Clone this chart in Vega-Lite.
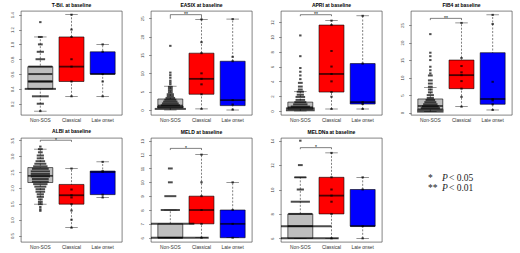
{
"$schema":"https://vega.github.io/schema/vega-lite/v6.json",
"padding":{"left":9,"top":2,"right":0,"bottom":0},
"background":"white",
"datasets":{
"boxes":[
{"p":"TBil","g":"Non-SOS","lo":0.1,"q1":0.4,"med":0.5,"q3":0.7,"hi":1.1},
{"p":"TBil","g":"Classical","lo":0.3,"q1":0.5,"med":0.7,"q3":1.1,"hi":1.4},
{"p":"TBil","g":"Late onset","lo":0.3,"q1":0.6,"med":0.6,"q3":0.9,"hi":1.0},
{"p":"EASIX","g":"Non-SOS","lo":0,"q1":0.6,"med":1.2,"q3":3.0,"hi":6.5},
{"p":"EASIX","g":"Classical","lo":0.3,"q1":4.3,"med":8.5,"q3":15.5,"hi":24.7},
{"p":"EASIX","g":"Late onset","lo":0,"q1":1.2,"med":2.7,"q3":13.3,"hi":24.8},
{"p":"APRI","g":"Non-SOS","lo":0,"q1":0.25,"med":0.5,"q3":1.2,"hi":2.6},
{"p":"APRI","g":"Classical","lo":0.27,"q1":2.56,"med":5.0,"q3":11.6,"hi":12.2},
{"p":"APRI","g":"Late onset","lo":0.27,"q1":0.94,"med":1.2,"q3":6.4,"hi":12.85},
{"p":"FIB4","g":"Non-SOS","lo":0.3,"q1":1.05,"med":1.9,"q3":3.9,"hi":7.2},
{"p":"FIB4","g":"Classical","lo":1.7,"q1":6.85,"med":10.7,"q3":15.0,"hi":25.6},
{"p":"FIB4","g":"Late onset","lo":0.76,"q1":2.4,"med":3.9,"q3":17.1,"hi":27.9},
{"p":"ALBI","g":"Non-SOS","lo":1.49,"q1":2.17,"med":2.38,"q3":2.64,"hi":3.22},
{"p":"ALBI","g":"Classical","lo":0.75,"q1":1.49,"med":1.77,"q3":2.11,"hi":2.61},
{"p":"ALBI","g":"Late onset","lo":1.7,"q1":1.79,"med":2.5,"q3":2.53,"hi":2.82},
{"p":"MELD","g":"Non-SOS","lo":6,"q1":6,"med":6,"q3":7,"hi":8},
{"p":"MELD","g":"Classical","lo":6,"q1":7,"med":8,"q3":9,"hi":12},
{"p":"MELD","g":"Late onset","lo":6,"q1":6,"med":7,"q3":8,"hi":10},
{"p":"MELDNa","g":"Non-SOS","lo":6,"q1":6,"med":7,"q3":8,"hi":11},
{"p":"MELDNa","g":"Classical","lo":6,"q1":8,"med":9.5,"q3":11,"hi":13},
{"p":"MELDNa","g":"Late onset","lo":6,"q1":7,"med":7,"q3":10,"hi":11}
],
"pts":[
{"p":"TBil","g":"Non-SOS","v":1.3,"n":1},{"p":"TBil","g":"Non-SOS","v":1.1,"n":2},{"p":"TBil","g":"Non-SOS","v":1.0,"n":2},{"p":"TBil","g":"Non-SOS","v":0.9,"n":3},{"p":"TBil","g":"Non-SOS","v":0.8,"n":4},{"p":"TBil","g":"Non-SOS","v":0.7,"n":10},{"p":"TBil","g":"Non-SOS","v":0.6,"n":10},{"p":"TBil","g":"Non-SOS","v":0.5,"n":10},{"p":"TBil","g":"Non-SOS","v":0.4,"n":13},{"p":"TBil","g":"Non-SOS","v":0.3,"n":7},{"p":"TBil","g":"Non-SOS","v":0.2,"n":3},{"p":"TBil","g":"Non-SOS","v":0.1,"n":1},
{"p":"TBil","g":"Classical","v":1.4,"n":1},{"p":"TBil","g":"Classical","v":1.2,"n":1},{"p":"TBil","g":"Classical","v":1.1,"n":1},{"p":"TBil","g":"Classical","v":0.8,"n":1},{"p":"TBil","g":"Classical","v":0.7,"n":1},{"p":"TBil","g":"Classical","v":0.5,"n":1},{"p":"TBil","g":"Classical","v":0.3,"n":1},
{"p":"TBil","g":"Late onset","v":1.0,"n":1},{"p":"TBil","g":"Late onset","v":0.9,"n":1},{"p":"TBil","g":"Late onset","v":0.6,"n":1},{"p":"TBil","g":"Late onset","v":0.5,"n":1},{"p":"TBil","g":"Late onset","v":0.3,"n":1},
{"p":"EASIX","g":"Non-SOS","v":17.5,"n":1},{"p":"EASIX","g":"Non-SOS","v":10.2,"n":1},{"p":"EASIX","g":"Non-SOS","v":9.5,"n":1},{"p":"EASIX","g":"Non-SOS","v":8.8,"n":1},{"p":"EASIX","g":"Non-SOS","v":8,"n":1},{"p":"EASIX","g":"Non-SOS","v":7.5,"n":1},{"p":"EASIX","g":"Non-SOS","v":7,"n":1},{"p":"EASIX","g":"Non-SOS","v":6.3,"n":2},{"p":"EASIX","g":"Non-SOS","v":5.8,"n":2},{"p":"EASIX","g":"Non-SOS","v":5.3,"n":2},{"p":"EASIX","g":"Non-SOS","v":4.8,"n":2},{"p":"EASIX","g":"Non-SOS","v":4.3,"n":3},{"p":"EASIX","g":"Non-SOS","v":3.8,"n":3},{"p":"EASIX","g":"Non-SOS","v":3.3,"n":4},{"p":"EASIX","g":"Non-SOS","v":2.8,"n":5},{"p":"EASIX","g":"Non-SOS","v":2.3,"n":6},{"p":"EASIX","g":"Non-SOS","v":1.8,"n":7},{"p":"EASIX","g":"Non-SOS","v":1.3,"n":8},{"p":"EASIX","g":"Non-SOS","v":0.8,"n":11},{"p":"EASIX","g":"Non-SOS","v":0.3,"n":13},
{"p":"EASIX","g":"Classical","v":24.7,"n":1},{"p":"EASIX","g":"Classical","v":18.5,"n":1},{"p":"EASIX","g":"Classical","v":15.5,"n":1},{"p":"EASIX","g":"Classical","v":10,"n":1},{"p":"EASIX","g":"Classical","v":8.5,"n":1},{"p":"EASIX","g":"Classical","v":7,"n":1},{"p":"EASIX","g":"Classical","v":4.3,"n":1},{"p":"EASIX","g":"Classical","v":0.3,"n":1},
{"p":"EASIX","g":"Late onset","v":24.8,"n":1},{"p":"EASIX","g":"Late onset","v":14.5,"n":1},{"p":"EASIX","g":"Late onset","v":13.3,"n":1},{"p":"EASIX","g":"Late onset","v":2.7,"n":1},{"p":"EASIX","g":"Late onset","v":1.5,"n":1},{"p":"EASIX","g":"Late onset","v":0.1,"n":1},
{"p":"APRI","g":"Non-SOS","v":10.2,"n":1},{"p":"APRI","g":"Non-SOS","v":7.4,"n":1},{"p":"APRI","g":"Non-SOS","v":5.8,"n":1},{"p":"APRI","g":"Non-SOS","v":5.3,"n":1},{"p":"APRI","g":"Non-SOS","v":4.8,"n":1},{"p":"APRI","g":"Non-SOS","v":4.3,"n":1},{"p":"APRI","g":"Non-SOS","v":3.8,"n":2},{"p":"APRI","g":"Non-SOS","v":3.3,"n":2},{"p":"APRI","g":"Non-SOS","v":2.9,"n":2},{"p":"APRI","g":"Non-SOS","v":2.6,"n":3},{"p":"APRI","g":"Non-SOS","v":2.2,"n":3},{"p":"APRI","g":"Non-SOS","v":1.9,"n":4},{"p":"APRI","g":"Non-SOS","v":1.5,"n":4},{"p":"APRI","g":"Non-SOS","v":1.2,"n":5},{"p":"APRI","g":"Non-SOS","v":0.9,"n":6},{"p":"APRI","g":"Non-SOS","v":0.6,"n":8},{"p":"APRI","g":"Non-SOS","v":0.35,"n":12},{"p":"APRI","g":"Non-SOS","v":0.1,"n":12},
{"p":"APRI","g":"Classical","v":12.2,"n":1},{"p":"APRI","g":"Classical","v":11.6,"n":1},{"p":"APRI","g":"Classical","v":8.1,"n":1},{"p":"APRI","g":"Classical","v":6.0,"n":1},{"p":"APRI","g":"Classical","v":5.0,"n":1},{"p":"APRI","g":"Classical","v":4.0,"n":1},{"p":"APRI","g":"Classical","v":2.56,"n":1},{"p":"APRI","g":"Classical","v":1.93,"n":1},{"p":"APRI","g":"Classical","v":0.27,"n":1},
{"p":"APRI","g":"Late onset","v":12.85,"n":1},{"p":"APRI","g":"Late onset","v":6.4,"n":1},{"p":"APRI","g":"Late onset","v":1.2,"n":1},{"p":"APRI","g":"Late onset","v":0.94,"n":1},{"p":"APRI","g":"Late onset","v":0.27,"n":1},
{"p":"FIB4","g":"Non-SOS","v":22.4,"n":1},{"p":"FIB4","g":"Non-SOS","v":17.1,"n":1},{"p":"FIB4","g":"Non-SOS","v":16.1,"n":1},{"p":"FIB4","g":"Non-SOS","v":15,"n":1},{"p":"FIB4","g":"Non-SOS","v":13.1,"n":1},{"p":"FIB4","g":"Non-SOS","v":12.1,"n":1},{"p":"FIB4","g":"Non-SOS","v":11.2,"n":1},{"p":"FIB4","g":"Non-SOS","v":10.6,"n":2},{"p":"FIB4","g":"Non-SOS","v":9.2,"n":2},{"p":"FIB4","g":"Non-SOS","v":8.3,"n":2},{"p":"FIB4","g":"Non-SOS","v":7.4,"n":2},{"p":"FIB4","g":"Non-SOS","v":6.6,"n":2},{"p":"FIB4","g":"Non-SOS","v":5.8,"n":2},{"p":"FIB4","g":"Non-SOS","v":5.0,"n":3},{"p":"FIB4","g":"Non-SOS","v":4.2,"n":3},{"p":"FIB4","g":"Non-SOS","v":3.6,"n":4},{"p":"FIB4","g":"Non-SOS","v":3.0,"n":5},{"p":"FIB4","g":"Non-SOS","v":2.4,"n":6},{"p":"FIB4","g":"Non-SOS","v":1.8,"n":7},{"p":"FIB4","g":"Non-SOS","v":1.3,"n":8},{"p":"FIB4","g":"Non-SOS","v":0.8,"n":11},{"p":"FIB4","g":"Non-SOS","v":0.3,"n":11},
{"p":"FIB4","g":"Classical","v":25.6,"n":1},{"p":"FIB4","g":"Classical","v":15.6,"n":1},{"p":"FIB4","g":"Classical","v":13.3,"n":1},{"p":"FIB4","g":"Classical","v":11.5,"n":1},{"p":"FIB4","g":"Classical","v":10.7,"n":1},{"p":"FIB4","g":"Classical","v":9.0,"n":1},{"p":"FIB4","g":"Classical","v":6.85,"n":1},{"p":"FIB4","g":"Classical","v":4.5,"n":1},{"p":"FIB4","g":"Classical","v":1.7,"n":1},
{"p":"FIB4","g":"Late onset","v":27.9,"n":1},{"p":"FIB4","g":"Late onset","v":25.3,"n":1},{"p":"FIB4","g":"Late onset","v":8.8,"n":1},{"p":"FIB4","g":"Late onset","v":3.9,"n":1},{"p":"FIB4","g":"Late onset","v":3.5,"n":1},{"p":"FIB4","g":"Late onset","v":2.4,"n":1},{"p":"FIB4","g":"Late onset","v":0.76,"n":1},
{"p":"ALBI","g":"Non-SOS","v":3.30,"n":1},{"p":"ALBI","g":"Non-SOS","v":3.22,"n":2},{"p":"ALBI","g":"Non-SOS","v":3.12,"n":2},{"p":"ALBI","g":"Non-SOS","v":3.02,"n":3},{"p":"ALBI","g":"Non-SOS","v":2.93,"n":3},{"p":"ALBI","g":"Non-SOS","v":2.84,"n":4},{"p":"ALBI","g":"Non-SOS","v":2.76,"n":5},{"p":"ALBI","g":"Non-SOS","v":2.68,"n":6},{"p":"ALBI","g":"Non-SOS","v":2.60,"n":7},{"p":"ALBI","g":"Non-SOS","v":2.52,"n":8},{"p":"ALBI","g":"Non-SOS","v":2.44,"n":8},{"p":"ALBI","g":"Non-SOS","v":2.36,"n":8},{"p":"ALBI","g":"Non-SOS","v":2.28,"n":7},{"p":"ALBI","g":"Non-SOS","v":2.20,"n":7},{"p":"ALBI","g":"Non-SOS","v":2.12,"n":6},{"p":"ALBI","g":"Non-SOS","v":2.04,"n":5},{"p":"ALBI","g":"Non-SOS","v":1.96,"n":4},{"p":"ALBI","g":"Non-SOS","v":1.88,"n":4},{"p":"ALBI","g":"Non-SOS","v":1.80,"n":3},{"p":"ALBI","g":"Non-SOS","v":1.72,"n":3},{"p":"ALBI","g":"Non-SOS","v":1.64,"n":2},{"p":"ALBI","g":"Non-SOS","v":1.56,"n":2},{"p":"ALBI","g":"Non-SOS","v":1.49,"n":2},{"p":"ALBI","g":"Non-SOS","v":1.40,"n":1},{"p":"ALBI","g":"Non-SOS","v":1.33,"n":1},{"p":"ALBI","g":"Non-SOS","v":1.28,"n":1},
{"p":"ALBI","g":"Classical","v":2.61,"n":1},{"p":"ALBI","g":"Classical","v":1.95,"n":1},{"p":"ALBI","g":"Classical","v":1.77,"n":1},{"p":"ALBI","g":"Classical","v":1.7,"n":1},{"p":"ALBI","g":"Classical","v":1.49,"n":1},{"p":"ALBI","g":"Classical","v":1.29,"n":1},{"p":"ALBI","g":"Classical","v":1.0,"n":1},{"p":"ALBI","g":"Classical","v":0.75,"n":1},
{"p":"ALBI","g":"Late onset","v":2.82,"n":1},{"p":"ALBI","g":"Late onset","v":2.53,"n":1},{"p":"ALBI","g":"Late onset","v":2.5,"n":1},{"p":"ALBI","g":"Late onset","v":1.79,"n":1},{"p":"ALBI","g":"Late onset","v":1.7,"n":1},
{"p":"MELD","g":"Non-SOS","v":11,"n":2},{"p":"MELD","g":"Non-SOS","v":10,"n":2},{"p":"MELD","g":"Non-SOS","v":9,"n":5},{"p":"MELD","g":"Non-SOS","v":8,"n":8},{"p":"MELD","g":"Non-SOS","v":7,"n":20},{"p":"MELD","g":"Non-SOS","v":6,"n":32},
{"p":"MELD","g":"Classical","v":12,"n":1},{"p":"MELD","g":"Classical","v":10,"n":1},{"p":"MELD","g":"Classical","v":9,"n":1},{"p":"MELD","g":"Classical","v":8,"n":1},{"p":"MELD","g":"Classical","v":7,"n":1},{"p":"MELD","g":"Classical","v":6,"n":1},
{"p":"MELD","g":"Late onset","v":10,"n":1},{"p":"MELD","g":"Late onset","v":8,"n":1},{"p":"MELD","g":"Late onset","v":7,"n":1},{"p":"MELD","g":"Late onset","v":6,"n":1},
{"p":"MELDNa","g":"Non-SOS","v":14,"n":1},{"p":"MELDNa","g":"Non-SOS","v":12,"n":2},{"p":"MELDNa","g":"Non-SOS","v":11,"n":5},{"p":"MELDNa","g":"Non-SOS","v":10,"n":3},{"p":"MELDNa","g":"Non-SOS","v":9,"n":8},{"p":"MELDNa","g":"Non-SOS","v":8,"n":10},{"p":"MELDNa","g":"Non-SOS","v":7,"n":26},{"p":"MELDNa","g":"Non-SOS","v":6,"n":32},
{"p":"MELDNa","g":"Classical","v":13,"n":1},{"p":"MELDNa","g":"Classical","v":11,"n":1},{"p":"MELDNa","g":"Classical","v":10,"n":1},{"p":"MELDNa","g":"Classical","v":9.5,"n":1},{"p":"MELDNa","g":"Classical","v":9,"n":1},{"p":"MELDNa","g":"Classical","v":8,"n":1},{"p":"MELDNa","g":"Classical","v":6,"n":1},
{"p":"MELDNa","g":"Late onset","v":11,"n":1},{"p":"MELDNa","g":"Late onset","v":10,"n":1},{"p":"MELDNa","g":"Late onset","v":7,"n":1},{"p":"MELDNa","g":"Late onset","v":6,"n":1}
],
"sig":[
{"p":"EASIX","g":"Non-SOS","v":24.9,"o":1},{"p":"EASIX","g":"Non-SOS","v":26,"o":2},{"p":"EASIX","g":"Classical","v":26,"o":3},{"p":"EASIX","g":"Classical","v":24.9,"o":4},
{"p":"APRI","g":"Non-SOS","v":12.8,"o":1},{"p":"APRI","g":"Non-SOS","v":13.0,"o":2},{"p":"APRI","g":"Classical","v":13.0,"o":3},{"p":"APRI","g":"Classical","v":12.8,"o":4},
{"p":"FIB4","g":"Non-SOS","v":26.4,"o":1},{"p":"FIB4","g":"Non-SOS","v":26.9,"o":2},{"p":"FIB4","g":"Classical","v":26.9,"o":3},{"p":"FIB4","g":"Classical","v":26.4,"o":4},
{"p":"ALBI","g":"Non-SOS","v":3.45,"o":1},{"p":"ALBI","g":"Non-SOS","v":3.5,"o":2},{"p":"ALBI","g":"Classical","v":3.5,"o":3},{"p":"ALBI","g":"Classical","v":3.45,"o":4},
{"p":"MELD","g":"Non-SOS","v":12.33,"o":1},{"p":"MELD","g":"Non-SOS","v":12.45,"o":2},{"p":"MELD","g":"Classical","v":12.45,"o":3},{"p":"MELD","g":"Classical","v":12.33,"o":4},
{"p":"MELDNa","g":"Non-SOS","v":13.3,"o":1},{"p":"MELDNa","g":"Non-SOS","v":13.43,"o":2},{"p":"MELDNa","g":"Classical","v":13.43,"o":3},{"p":"MELDNa","g":"Classical","v":13.3,"o":4}
],
"sigt":[
{"p":"EASIX","g":"Non-SOS","v":26,"t":"**"},
{"p":"APRI","g":"Non-SOS","v":13.0,"t":"**"},
{"p":"FIB4","g":"Non-SOS","v":26.9,"t":"**"},
{"p":"ALBI","g":"Non-SOS","v":3.5,"t":"*"},
{"p":"MELD","g":"Non-SOS","v":12.45,"t":"*"},
{"p":"MELDNa","g":"Non-SOS","v":13.43,"t":"*"}
],
"legend":[
{"k":1,"s":"*","p":"P","c":"< 0.05"},
{"k":2,"s":"**","p":"P","c":"< 0.01"}
]
},
"columns":4,
"spacing":{"row":23,"column":29},
"bounds":"flush",
"concat":[
{"title":"T-Bil. at baseline","width":101,"height":104,
"encoding":{"x":{"field":"g","type":"nominal","title":null,"scale":{"domain":["Non-SOS","Classical","Late onset"],"paddingInner":0.2,"paddingOuter":0.22}}},
"layer":[
{"data":{"name":"boxes"},"transform":[{"filter":"datum.p==='TBil'"}],"mark":{"type":"rule","color":"#000","strokeWidth":0.5,"strokeDash":[2,1.5]},"encoding":{"y":{"field":"lo","type":"quantitative","title":null,"scale":{"domain":[0.048,1.45],"nice":false,"zero":false},"axis":{"tickCount":7,"format":".1f"}},"y2":{"field":"hi"}}},
{"data":{"name":"boxes"},"transform":[{"filter":"datum.p==='TBil'"}],"mark":{"type":"bar","stroke":"#000","strokeWidth":0.6},"encoding":{"y":{"field":"q1","type":"quantitative","title":null},"y2":{"field":"q3"},"color":{"field":"g","type":"nominal","scale":{"domain":["Non-SOS","Classical","Late onset"],"range":["#bebebe","#ff0000","#0000ff"]},"legend":null}}},
{"data":{"name":"boxes"},"transform":[{"filter":"datum.p==='TBil'"}],"mark":{"type":"tick","size":25,"thickness":1.8,"color":"#000"},"encoding":{"y":{"field":"med","type":"quantitative","title":null}}},
{"data":{"name":"boxes"},"transform":[{"filter":"datum.p==='TBil'"},{"fold":["lo","hi"],"as":["s","w"]}],"mark":{"type":"tick","size":12.5,"thickness":0.6,"color":"#000"},"encoding":{"y":{"field":"w","type":"quantitative","title":null}}},
{"data":{"name":"pts"},"transform":[{"filter":"datum.p==='TBil'"}],"mark":{"type":"tick","thickness":2,"color":"#000","clip":true},"encoding":{"y":{"field":"v","type":"quantitative","title":null},"size":{"field":"n","type":"quantitative","scale":{"domain":[0,10],"range":[0,24]},"legend":null}}}
]},
{"title":"EASIX at baseline","width":101,"height":104,
"encoding":{"x":{"field":"g","type":"nominal","title":null,"scale":{"domain":["Non-SOS","Classical","Late onset"],"paddingInner":0.2,"paddingOuter":0.22}}},
"layer":[
{"data":{"name":"boxes"},"transform":[{"filter":"datum.p==='EASIX'"}],"mark":{"type":"rule","color":"#000","strokeWidth":0.5,"strokeDash":[2,1.5]},"encoding":{"y":{"field":"lo","type":"quantitative","title":null,"scale":{"domain":[-1.36,27],"nice":false,"zero":false},"axis":{"tickCount":6}},"y2":{"field":"hi"}}},
{"data":{"name":"boxes"},"transform":[{"filter":"datum.p==='EASIX'"}],"mark":{"type":"bar","stroke":"#000","strokeWidth":0.6},"encoding":{"y":{"field":"q1","type":"quantitative","title":null},"y2":{"field":"q3"},"color":{"field":"g","type":"nominal","scale":{"domain":["Non-SOS","Classical","Late onset"],"range":["#bebebe","#ff0000","#0000ff"]},"legend":null}}},
{"data":{"name":"boxes"},"transform":[{"filter":"datum.p==='EASIX'"}],"mark":{"type":"tick","size":25,"thickness":1.8,"color":"#000"},"encoding":{"y":{"field":"med","type":"quantitative","title":null}}},
{"data":{"name":"boxes"},"transform":[{"filter":"datum.p==='EASIX'"},{"fold":["lo","hi"],"as":["s","w"]}],"mark":{"type":"tick","size":12.5,"thickness":0.6,"color":"#000"},"encoding":{"y":{"field":"w","type":"quantitative","title":null}}},
{"data":{"name":"pts"},"transform":[{"filter":"datum.p==='EASIX'"}],"mark":{"type":"tick","thickness":2,"color":"#000","clip":true},"encoding":{"y":{"field":"v","type":"quantitative","title":null},"size":{"field":"n","type":"quantitative","scale":{"domain":[0,10],"range":[0,24]},"legend":null}}},
{"data":{"name":"sig"},"transform":[{"filter":"datum.p==='EASIX'"}],"mark":{"type":"line","color":"#000","strokeWidth":0.5},"encoding":{"y":{"field":"v","type":"quantitative","title":null},"order":{"field":"o","type":"quantitative"}}},
{"data":{"name":"sigt"},"transform":[{"filter":"datum.p==='EASIX'"}],"mark":{"type":"text","fontSize":5,"dx":15.6,"dy":1.5,"baseline":"alphabetic"},"encoding":{"y":{"field":"v","type":"quantitative","title":null},"text":{"field":"t"}}}
]},
{"title":"APRI at baseline","width":101,"height":104,
"encoding":{"x":{"field":"g","type":"nominal","title":null,"scale":{"domain":["Non-SOS","Classical","Late onset"],"paddingInner":0.2,"paddingOuter":0.22}}},
"layer":[
{"data":{"name":"boxes"},"transform":[{"filter":"datum.p==='APRI'"}],"mark":{"type":"rule","color":"#000","strokeWidth":0.5,"strokeDash":[2,1.5]},"encoding":{"y":{"field":"lo","type":"quantitative","title":null,"scale":{"domain":[-0.54,13.5],"nice":false,"zero":false},"axis":{"tickCount":7}},"y2":{"field":"hi"}}},
{"data":{"name":"boxes"},"transform":[{"filter":"datum.p==='APRI'"}],"mark":{"type":"bar","stroke":"#000","strokeWidth":0.6},"encoding":{"y":{"field":"q1","type":"quantitative","title":null},"y2":{"field":"q3"},"color":{"field":"g","type":"nominal","scale":{"domain":["Non-SOS","Classical","Late onset"],"range":["#bebebe","#ff0000","#0000ff"]},"legend":null}}},
{"data":{"name":"boxes"},"transform":[{"filter":"datum.p==='APRI'"}],"mark":{"type":"tick","size":25,"thickness":1.8,"color":"#000"},"encoding":{"y":{"field":"med","type":"quantitative","title":null}}},
{"data":{"name":"boxes"},"transform":[{"filter":"datum.p==='APRI'"},{"fold":["lo","hi"],"as":["s","w"]}],"mark":{"type":"tick","size":12.5,"thickness":0.6,"color":"#000"},"encoding":{"y":{"field":"w","type":"quantitative","title":null}}},
{"data":{"name":"pts"},"transform":[{"filter":"datum.p==='APRI'"}],"mark":{"type":"tick","thickness":2,"color":"#000","clip":true},"encoding":{"y":{"field":"v","type":"quantitative","title":null},"size":{"field":"n","type":"quantitative","scale":{"domain":[0,10],"range":[0,24]},"legend":null}}},
{"data":{"name":"sig"},"transform":[{"filter":"datum.p==='APRI'"}],"mark":{"type":"line","color":"#000","strokeWidth":0.5},"encoding":{"y":{"field":"v","type":"quantitative","title":null},"order":{"field":"o","type":"quantitative"}}},
{"data":{"name":"sigt"},"transform":[{"filter":"datum.p==='APRI'"}],"mark":{"type":"text","fontSize":5,"dx":15.6,"dy":1.5,"baseline":"alphabetic"},"encoding":{"y":{"field":"v","type":"quantitative","title":null},"text":{"field":"t"}}}
]},
{"title":"FIB4 at baseline","width":101,"height":104,
"encoding":{"x":{"field":"g","type":"nominal","title":null,"scale":{"domain":["Non-SOS","Classical","Late onset"],"paddingInner":0.2,"paddingOuter":0.22}}},
"layer":[
{"data":{"name":"boxes"},"transform":[{"filter":"datum.p==='FIB4'"}],"mark":{"type":"rule","color":"#000","strokeWidth":0.5,"strokeDash":[2,1.5]},"encoding":{"y":{"field":"lo","type":"quantitative","title":null,"scale":{"domain":[-0.67,29],"nice":false,"zero":false},"axis":{"tickCount":6}},"y2":{"field":"hi"}}},
{"data":{"name":"boxes"},"transform":[{"filter":"datum.p==='FIB4'"}],"mark":{"type":"bar","stroke":"#000","strokeWidth":0.6},"encoding":{"y":{"field":"q1","type":"quantitative","title":null},"y2":{"field":"q3"},"color":{"field":"g","type":"nominal","scale":{"domain":["Non-SOS","Classical","Late onset"],"range":["#bebebe","#ff0000","#0000ff"]},"legend":null}}},
{"data":{"name":"boxes"},"transform":[{"filter":"datum.p==='FIB4'"}],"mark":{"type":"tick","size":25,"thickness":1.8,"color":"#000"},"encoding":{"y":{"field":"med","type":"quantitative","title":null}}},
{"data":{"name":"boxes"},"transform":[{"filter":"datum.p==='FIB4'"},{"fold":["lo","hi"],"as":["s","w"]}],"mark":{"type":"tick","size":12.5,"thickness":0.6,"color":"#000"},"encoding":{"y":{"field":"w","type":"quantitative","title":null}}},
{"data":{"name":"pts"},"transform":[{"filter":"datum.p==='FIB4'"}],"mark":{"type":"tick","thickness":2,"color":"#000","clip":true},"encoding":{"y":{"field":"v","type":"quantitative","title":null},"size":{"field":"n","type":"quantitative","scale":{"domain":[0,10],"range":[0,24]},"legend":null}}},
{"data":{"name":"sig"},"transform":[{"filter":"datum.p==='FIB4'"}],"mark":{"type":"line","color":"#000","strokeWidth":0.5},"encoding":{"y":{"field":"v","type":"quantitative","title":null},"order":{"field":"o","type":"quantitative"}}},
{"data":{"name":"sigt"},"transform":[{"filter":"datum.p==='FIB4'"}],"mark":{"type":"text","fontSize":5,"dx":15.6,"dy":1.5,"baseline":"alphabetic"},"encoding":{"y":{"field":"v","type":"quantitative","title":null},"text":{"field":"t"}}}
]},
{"title":"ALBI at baseline","width":101,"height":104,
"encoding":{"x":{"field":"g","type":"nominal","title":null,"scale":{"domain":["Non-SOS","Classical","Late onset"],"paddingInner":0.2,"paddingOuter":0.22}}},
"layer":[
{"data":{"name":"boxes"},"transform":[{"filter":"datum.p==='ALBI'"}],"mark":{"type":"rule","color":"#000","strokeWidth":0.5,"strokeDash":[2,1.5]},"encoding":{"y":{"field":"lo","type":"quantitative","title":null,"scale":{"domain":[0.3,3.57],"nice":false,"zero":false},"axis":{"tickCount":7,"format":".1f"}},"y2":{"field":"hi"}}},
{"data":{"name":"boxes"},"transform":[{"filter":"datum.p==='ALBI'"}],"mark":{"type":"bar","stroke":"#000","strokeWidth":0.6},"encoding":{"y":{"field":"q1","type":"quantitative","title":null},"y2":{"field":"q3"},"color":{"field":"g","type":"nominal","scale":{"domain":["Non-SOS","Classical","Late onset"],"range":["#bebebe","#ff0000","#0000ff"]},"legend":null}}},
{"data":{"name":"boxes"},"transform":[{"filter":"datum.p==='ALBI'"}],"mark":{"type":"tick","size":25,"thickness":1.8,"color":"#000"},"encoding":{"y":{"field":"med","type":"quantitative","title":null}}},
{"data":{"name":"boxes"},"transform":[{"filter":"datum.p==='ALBI'"},{"fold":["lo","hi"],"as":["s","w"]}],"mark":{"type":"tick","size":12.5,"thickness":0.6,"color":"#000"},"encoding":{"y":{"field":"w","type":"quantitative","title":null}}},
{"data":{"name":"pts"},"transform":[{"filter":"datum.p==='ALBI'"}],"mark":{"type":"tick","thickness":2,"color":"#000","clip":true},"encoding":{"y":{"field":"v","type":"quantitative","title":null},"size":{"field":"n","type":"quantitative","scale":{"domain":[0,10],"range":[0,24]},"legend":null}}},
{"data":{"name":"sig"},"transform":[{"filter":"datum.p==='ALBI'"}],"mark":{"type":"line","color":"#000","strokeWidth":0.5},"encoding":{"y":{"field":"v","type":"quantitative","title":null},"order":{"field":"o","type":"quantitative"}}},
{"data":{"name":"sigt"},"transform":[{"filter":"datum.p==='ALBI'"}],"mark":{"type":"text","fontSize":5,"dx":15.6,"dy":1.5,"baseline":"alphabetic"},"encoding":{"y":{"field":"v","type":"quantitative","title":null},"text":{"field":"t"}}}
]},
{"title":"MELD at baseline","width":101,"height":104,
"encoding":{"x":{"field":"g","type":"nominal","title":null,"scale":{"domain":["Non-SOS","Classical","Late onset"],"paddingInner":0.2,"paddingOuter":0.22}}},
"layer":[
{"data":{"name":"boxes"},"transform":[{"filter":"datum.p==='MELD'"}],"mark":{"type":"rule","color":"#000","strokeWidth":0.5,"strokeDash":[2,1.5]},"encoding":{"y":{"field":"lo","type":"quantitative","title":null,"scale":{"domain":[5.69,13.2],"nice":false,"zero":false},"axis":{"tickCount":8}},"y2":{"field":"hi"}}},
{"data":{"name":"boxes"},"transform":[{"filter":"datum.p==='MELD'"}],"mark":{"type":"bar","stroke":"#000","strokeWidth":0.6},"encoding":{"y":{"field":"q1","type":"quantitative","title":null},"y2":{"field":"q3"},"color":{"field":"g","type":"nominal","scale":{"domain":["Non-SOS","Classical","Late onset"],"range":["#bebebe","#ff0000","#0000ff"]},"legend":null}}},
{"data":{"name":"boxes"},"transform":[{"filter":"datum.p==='MELD'"}],"mark":{"type":"tick","size":25,"thickness":1.8,"color":"#000"},"encoding":{"y":{"field":"med","type":"quantitative","title":null}}},
{"data":{"name":"boxes"},"transform":[{"filter":"datum.p==='MELD'"},{"fold":["lo","hi"],"as":["s","w"]}],"mark":{"type":"tick","size":12.5,"thickness":0.6,"color":"#000"},"encoding":{"y":{"field":"w","type":"quantitative","title":null}}},
{"data":{"name":"pts"},"transform":[{"filter":"datum.p==='MELD'"}],"mark":{"type":"tick","thickness":2,"color":"#000","clip":true},"encoding":{"y":{"field":"v","type":"quantitative","title":null},"size":{"field":"n","type":"quantitative","scale":{"domain":[0,10],"range":[0,24]},"legend":null}}},
{"data":{"name":"sig"},"transform":[{"filter":"datum.p==='MELD'"}],"mark":{"type":"line","color":"#000","strokeWidth":0.5},"encoding":{"y":{"field":"v","type":"quantitative","title":null},"order":{"field":"o","type":"quantitative"}}},
{"data":{"name":"sigt"},"transform":[{"filter":"datum.p==='MELD'"}],"mark":{"type":"text","fontSize":5,"dx":15.6,"dy":1.5,"baseline":"alphabetic"},"encoding":{"y":{"field":"v","type":"quantitative","title":null},"text":{"field":"t"}}}
]},
{"title":"MELDNa at baseline","width":101,"height":104,
"encoding":{"x":{"field":"g","type":"nominal","title":null,"scale":{"domain":["Non-SOS","Classical","Late onset"],"paddingInner":0.2,"paddingOuter":0.22}}},
"layer":[
{"data":{"name":"boxes"},"transform":[{"filter":"datum.p==='MELDNa'"}],"mark":{"type":"rule","color":"#000","strokeWidth":0.5,"strokeDash":[2,1.5]},"encoding":{"y":{"field":"lo","type":"quantitative","title":null,"scale":{"domain":[5.7,14.22],"nice":false,"zero":false},"axis":{"tickCount":5}},"y2":{"field":"hi"}}},
{"data":{"name":"boxes"},"transform":[{"filter":"datum.p==='MELDNa'"}],"mark":{"type":"bar","stroke":"#000","strokeWidth":0.6},"encoding":{"y":{"field":"q1","type":"quantitative","title":null},"y2":{"field":"q3"},"color":{"field":"g","type":"nominal","scale":{"domain":["Non-SOS","Classical","Late onset"],"range":["#bebebe","#ff0000","#0000ff"]},"legend":null}}},
{"data":{"name":"boxes"},"transform":[{"filter":"datum.p==='MELDNa'"}],"mark":{"type":"tick","size":25,"thickness":1.8,"color":"#000"},"encoding":{"y":{"field":"med","type":"quantitative","title":null}}},
{"data":{"name":"boxes"},"transform":[{"filter":"datum.p==='MELDNa'"},{"fold":["lo","hi"],"as":["s","w"]}],"mark":{"type":"tick","size":12.5,"thickness":0.6,"color":"#000"},"encoding":{"y":{"field":"w","type":"quantitative","title":null}}},
{"data":{"name":"pts"},"transform":[{"filter":"datum.p==='MELDNa'"}],"mark":{"type":"tick","thickness":2,"color":"#000","clip":true},"encoding":{"y":{"field":"v","type":"quantitative","title":null},"size":{"field":"n","type":"quantitative","scale":{"domain":[0,10],"range":[0,24]},"legend":null}}},
{"data":{"name":"sig"},"transform":[{"filter":"datum.p==='MELDNa'"}],"mark":{"type":"line","color":"#000","strokeWidth":0.5},"encoding":{"y":{"field":"v","type":"quantitative","title":null},"order":{"field":"o","type":"quantitative"}}},
{"data":{"name":"sigt"},"transform":[{"filter":"datum.p==='MELDNa'"}],"mark":{"type":"text","fontSize":5,"dx":15.6,"dy":1.5,"baseline":"alphabetic"},"encoding":{"y":{"field":"v","type":"quantitative","title":null},"text":{"field":"t"}}}
]},
{"width":101,"height":104,"view":{"stroke":null},
"data":{"name":"legend"},
"encoding":{"y":{"field":"k","type":"quantitative","scale":{"domain":[-3,7.4],"reverse":true,"nice":false,"zero":false},"axis":null}},
"layer":[
{"mark":{"type":"text","font":"Liberation Serif","fontSize":9.5,"align":"left","baseline":"middle","dx":-33.5,"color":"#222"},"encoding":{"text":{"field":"s"}}},
{"mark":{"type":"text","font":"Liberation Serif","fontSize":9.5,"fontStyle":"italic","align":"left","baseline":"middle","dx":-19.5,"color":"#222"},"encoding":{"text":{"field":"p"}}},
{"mark":{"type":"text","font":"Liberation Serif","fontSize":9.5,"align":"left","baseline":"middle","dx":-12.5,"color":"#222"},"encoding":{"text":{"field":"c"}}}
]}
],
"config":{
"font":"Liberation Sans",
"view":{"stroke":"#333","strokeWidth":0.6},
"axis":{"grid":false,"domain":false,"labelColor":"#333","tickColor":"#333","tickWidth":0.5,"labelOverlap":false},
"axisY":{"labelAngle":-90,"labelAlign":"center","labelBaseline":"bottom","labelFontSize":4.3,"tickSize":2.5,"labelPadding":4.5,"labelOverlap":false,"labelFlush":false,"labelBound":false},
"axisX":{"labelAngle":0,"labelFontSize":4.8,"ticks":false,"labelPadding":2},
"title":{"fontSize":5,"fontWeight":"bold","offset":3,"color":"#000"}
}
}
